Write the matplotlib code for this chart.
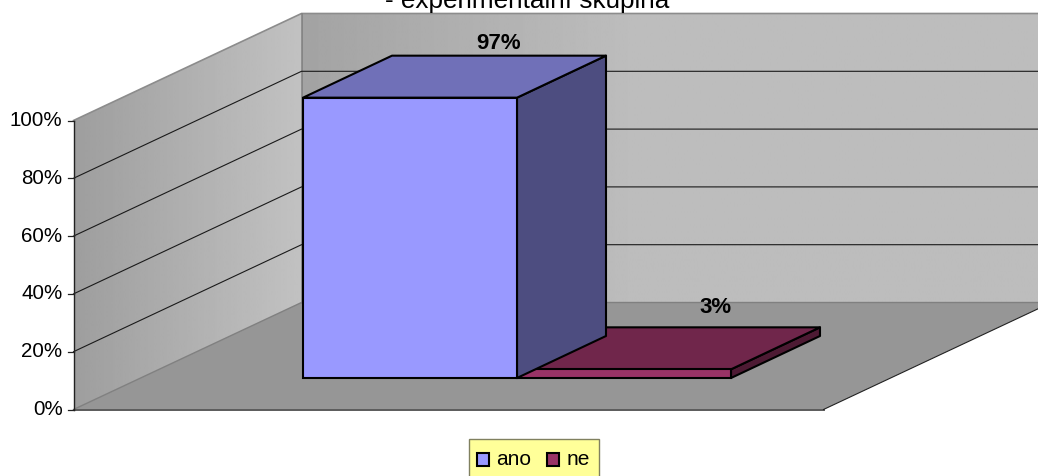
"""3D-style column chart: share of ano / ne answers in the experimental group."""
import matplotlib
matplotlib.use("Agg")
import matplotlib.pyplot as plt
import numpy as np
from matplotlib.patches import Polygon, Rectangle

plt.rcParams["font.family"] = ["Liberation Sans", "DejaVu Sans"]

categories = ["ano", "ne"]
values = [97, 3]
front_colors = ["#9999ff", "#993366"]
top_colors = ["#7070b8", "#70264b"]
side_colors = ["#4d4d80", "#4d1a33"]
ticks = [0, 20, 40, 60, 80, 100]
title = "- experimentální skupina"

W, H = 1038, 476

# oblique projection, everything below is in screen pixels
X0, Y0 = 73.5, 409.5       # front left corner of the floor
PX_PER_PCT = 2.89
FLOOR_W = 750
DEPTH = (228, -107)
BAR_LEFT = 303
BAR_W = 214
BAR_BASE = 378
BAR_DEPTH = (89, -42)
LABEL_NUDGE = [(0, -2), (2, -9)]


def y_of(v):
    return Y0 - v * PX_PER_PCT


fig = plt.figure(figsize=(W / 100, H / 100), dpi=100)
ax = fig.add_axes([0, 0, 1, 1])
ax.set_xlim(0, W)
ax.set_ylim(H, 0)
ax.axis("off")


def gradient_poly(pts, x_from, x_ramp_end, c_from, c_to):
    # horizontal grey ramp clipped to a polygon, flat after x_ramp_end
    poly = Polygon(pts, closed=True, fc="none", ec="none")
    ax.add_patch(poly)
    xs = np.linspace(x_from, W + 20, 512)
    ramp = np.interp(xs, [x_from, x_ramp_end], [c_from, c_to]).reshape(1, -1)
    im = ax.imshow(ramp, cmap="gray", vmin=0, vmax=1, aspect="auto",
                   extent=(x_from, W + 20, H, 0), interpolation="bilinear", zorder=0)
    im.set_clip_path(poly)


top = y_of(ticks[-1])
bx, by = X0 + DEPTH[0], DEPTH[1]

# side wall, back wall, floor
gradient_poly([(X0, Y0), (X0, top), (bx, top + by), (bx, Y0 + by)],
              X0, bx, 0.62, 0.76)
gradient_poly([(bx, top + by), (W + 20, top + by), (W + 20, Y0 + by), (bx, Y0 + by)],
              bx, bx + 330, 0.64, 0.74)
ax.set_xlim(0, W)
ax.set_ylim(H, 0)
ax.add_patch(Polygon([(X0, Y0), (X0 + FLOOR_W, Y0),
                      (X0 + FLOOR_W + DEPTH[0], Y0 + DEPTH[1]), (bx, Y0 + by)],
                     closed=True, fc="#969696", ec="none", zorder=1))

# wall outlines
ax.plot([X0, bx, W], [top, top + by, top + by], color="#8c8c8c", lw=1.2, zorder=2)
ax.plot([bx, bx], [top + by, Y0 + by], color="#808080", lw=1.2, zorder=2)
ax.plot([X0, bx, W], [Y0, Y0 + by, Y0 + by], color="#808080", lw=1.0, zorder=2)
ax.plot([X0, X0 + FLOOR_W], [Y0, Y0], color="#5a5a5a", lw=1.4, zorder=2)
ax.plot([X0 + FLOOR_W, X0 + FLOOR_W + DEPTH[0]], [Y0, Y0 + DEPTH[1]],
        color="#222222", lw=0.8, zorder=2)

# gridlines and axis
for t in ticks[1:-1]:
    y = y_of(t)
    ax.plot([X0, bx, W], [y, y + by, y + by], color="#1a1a1a", lw=0.8, zorder=2)
for t in ticks:
    y = y_of(t)
    ax.plot([X0 - 6, X0], [y, y], color="#222222", lw=0.9, zorder=2)
    ax.text(X0 - 11, y, f"{t}%", ha="right", va="center", fontsize=14.8, color="black")
ax.plot([X0, X0], [Y0, top], color="#222222", lw=1.0, zorder=2)

# columns, right one first
for i in (1, 0):
    left = BAR_LEFT + i * BAR_W
    right = left + BAR_W
    y_top = BAR_BASE - values[i] * PX_PER_PCT
    dx, dy = BAR_DEPTH
    ax.add_patch(Polygon([(right, BAR_BASE), (right + dx, BAR_BASE + dy),
                          (right + dx, y_top + dy), (right, y_top)], closed=True,
                         fc=side_colors[i], ec="black", lw=1.5, joinstyle="round", zorder=3))
    ax.add_patch(Polygon([(left, y_top), (right, y_top),
                          (right + dx, y_top + dy), (left + dx, y_top + dy)], closed=True,
                         fc=top_colors[i], ec="black", lw=1.5, joinstyle="round", zorder=3))
    ax.add_patch(Rectangle((left, y_top), BAR_W, values[i] * PX_PER_PCT,
                           fc=front_colors[i], ec="black", lw=1.5, zorder=3))
    nx, ny = LABEL_NUDGE[i]
    ax.text(left + BAR_W / 2 + dx + nx, y_top + dy + ny, f"{values[i]}%",
            ha="center", va="bottom", fontsize=16, fontweight="bold", color="black", zorder=4)

# title sits against the top edge
ax.text(527, 8, title, ha="center", va="baseline", fontsize=18.8, color="black")

# legend box runs off the bottom edge
ax.add_patch(Rectangle((468.5, 438.5), 130.5, 50, fc="#ffff99", ec="#808060", lw=1.0))
for name, color, x in zip(categories, front_colors, (476.5, 546.5)):
    ax.add_patch(Rectangle((x, 453), 12, 12.5, fc=color, ec="black", lw=1.5))
    ax.text(x + 20, 465, name, ha="left", va="baseline", fontsize=15, color="black")

fig.savefig("out.png", dpi=100)
